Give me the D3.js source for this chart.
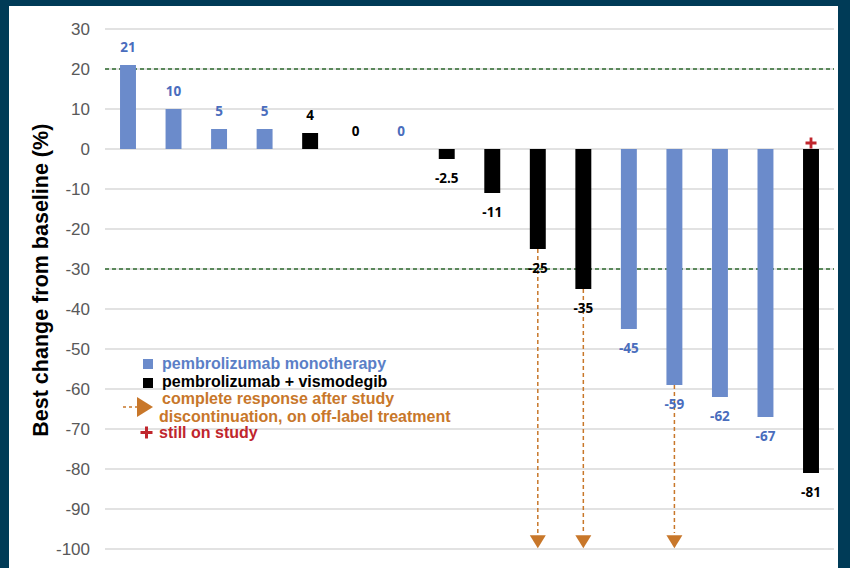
<!DOCTYPE html>
<html><head><meta charset="utf-8">
<script src="https://cdn.jsdelivr.net/npm/d3@7"></script>
<style>
html,body{margin:0;padding:0;background:#003b57;}
svg{display:block;}
</style></head>
<body>
<script>
const patients = ["P1","P2","P3","P4","P5","P6","P7","P8","P9","P10","P11","P12","P13","P14","P15","P16"];
const values = [21,10,5,5,4,0,0,-2.5,-11,-25,-35,-45,-59,-62,-67,-81];
const groups = ["mono","mono","mono","mono","combo","combo","mono","combo","combo","combo","combo","mono","mono","mono","mono","combo"];
const labels = ["21","10","5","5","4","0","0","-2.5","-11","-25","-35","-45","-59","-62","-67","-81"];
const arrowPatients = ["P10","P11","P13"];
const stillOnStudy = ["P16"];
const yTicks = [30,20,10,0,-10,-20,-30,-40,-50,-60,-70,-80,-90,-100];
const thresholds = [20,-30];

const W=850,H=568;
const colors = {mono:"#6b8bcb", combo:"#000000"};
const labelColors = {mono:"#4a6dbd", combo:"#000000"};
const orange="#c8772a", red="#c0262d";

const svg=d3.select("body").append("svg").attr("width",W).attr("height",H);
svg.append("rect").attr("x",0).attr("y",0).attr("width",W).attr("height",H).attr("fill","#003b57");
svg.append("rect").attr("x",9).attr("y",6).attr("width",829).attr("height",H-6).attr("fill","#ffffff");

const x=d3.scaleBand().domain(patients).range([105,834]).paddingInner(0.65).paddingOuter(0.33);
const y=d3.scaleLinear().domain([-100,30]).range([549,29]);

// gridlines
svg.append("g").selectAll("line").data(yTicks).join("line")
  .attr("x1",105).attr("x2",834).attr("y1",d=>y(d)).attr("y2",d=>y(d))
  .attr("stroke","#d9d9d9").attr("stroke-width",1.3);

// y axis
const ax=svg.append("g").attr("transform","translate(100,0)")
  .call(d3.axisLeft(y).tickValues(yTicks).tickSize(0).tickPadding(10).tickFormat(d=>String(d)));
ax.select(".domain").remove();
ax.selectAll("text").attr("font-family","Liberation Sans, Arial, sans-serif").attr("font-size",17).attr("fill","#595959");

svg.append("text").attr("transform",`translate(48,${y(-32.8)}) rotate(-90)`)
  .attr("text-anchor","middle").attr("font-family","Liberation Sans, Arial, sans-serif")
  .attr("font-weight","bold").attr("font-size",21.5).attr("fill","#000")
  .text("Best change from baseline (%)");

const data=patients.map((p,i)=>({p,v:values[i],g:groups[i],l:labels[i]}));

// threshold lines
svg.append("g").selectAll("line").data(thresholds).join("line")
  .attr("x1",105).attr("x2",834).attr("y1",d=>y(d)).attr("y2",d=>y(d))
  .attr("stroke","#2f6b2f").attr("stroke-width",1.3).attr("stroke-dasharray","4,3");

// arrows (dashed lines)
const arrowData=data.filter(d=>arrowPatients.includes(d.p));
svg.append("g").selectAll("line").data(arrowData).join("line")
  .attr("x1",d=>x(d.p)+x.bandwidth()/2).attr("x2",d=>x(d.p)+x.bandwidth()/2)
  .attr("y1",d=>y(d.v)).attr("y2",y(-96))
  .attr("stroke",orange).attr("stroke-width",1.5).attr("stroke-dasharray","4,3");
svg.append("g").selectAll("path").data(arrowData).join("path")
  .attr("d",d=>{const cx=x(d.p)+x.bandwidth()/2, t=y(-99.8);return `M${cx-8},${t-13}L${cx+8},${t-13}L${cx},${t}Z`;})
  .attr("fill",orange);

// bars
svg.append("g").selectAll("rect").data(data).join("rect")
  .attr("x",d=>x(d.p)).attr("width",x.bandwidth())
  .attr("y",d=>y(Math.max(0,d.v))).attr("height",d=>Math.abs(y(d.v)-y(0)))
  .attr("fill",d=>colors[d.g]);

// labels
svg.append("g").selectAll("text").data(data).join("text")
  .attr("x",d=>x(d.p)+x.bandwidth()/2)
  .attr("y",d=>d.v>=0 ? y(d.v)-13 : y(d.v)+24)
  .attr("text-anchor","middle").attr("font-family","Open Sans, Liberation Sans, sans-serif")
  .attr("font-weight","bold").attr("font-size",13.5)
  .attr("fill",d=>labelColors[d.g]).text(d=>d.l);

// plus marker path
const plus=(cx,cy,s,w)=>`M${cx-s},${cy-w}H${cx-w}V${cy-s}H${cx+w}V${cy-w}H${cx+s}V${cy+w}H${cx+w}V${cy+s}H${cx-w}V${cy+w}H${cx-s}Z`;

svg.append("g").selectAll("path").data(data.filter(d=>stillOnStudy.includes(d.p))).join("path")
  .attr("d",d=>plus(x(d.p)+x.bandwidth()/2, y(0)-6, 5.5, 1.4))
  .attr("fill",red);

// legend
const lf="Liberation Sans, Arial, sans-serif";
const fs=16;
const lg=svg.append("g");
lg.append("rect").attr("x",143).attr("y",359).attr("width",10).attr("height",10).attr("fill",colors.mono);
lg.append("text").attr("x",162).attr("y",369).attr("font-family",lf).attr("font-weight","bold").attr("font-size",fs).attr("fill","#5b7fc7").text("pembrolizumab monotherapy");
lg.append("rect").attr("x",143).attr("y",378).attr("width",10).attr("height",10).attr("fill","#000");
lg.append("text").attr("x",162).attr("y",387).attr("font-family",lf).attr("font-weight","bold").attr("font-size",fs).attr("fill","#000").text("pembrolizumab + vismodegib");
lg.append("line").attr("x1",123).attr("x2",137).attr("y1",407).attr("y2",407).attr("stroke",orange).attr("stroke-width",1.5).attr("stroke-dasharray","3,3");
lg.append("path").attr("d","M137,397L153,407L137,417Z").attr("fill",orange);
lg.append("text").attr("x",162).attr("y",404).attr("font-family",lf).attr("font-weight","bold").attr("font-size",fs).attr("fill",orange).text("complete response after study");
lg.append("text").attr("x",159).attr("y",422).attr("font-family",lf).attr("font-weight","bold").attr("font-size",fs).attr("fill",orange).text("discontinuation, on off-label treatment");
lg.append("path").attr("d",plus(146.5,432.5,6,1.5)).attr("fill",red);
lg.append("text").attr("x",159).attr("y",438).attr("font-family",lf).attr("font-weight","bold").attr("font-size",fs).attr("fill",red).text("still on study");
</script>
</body></html>
